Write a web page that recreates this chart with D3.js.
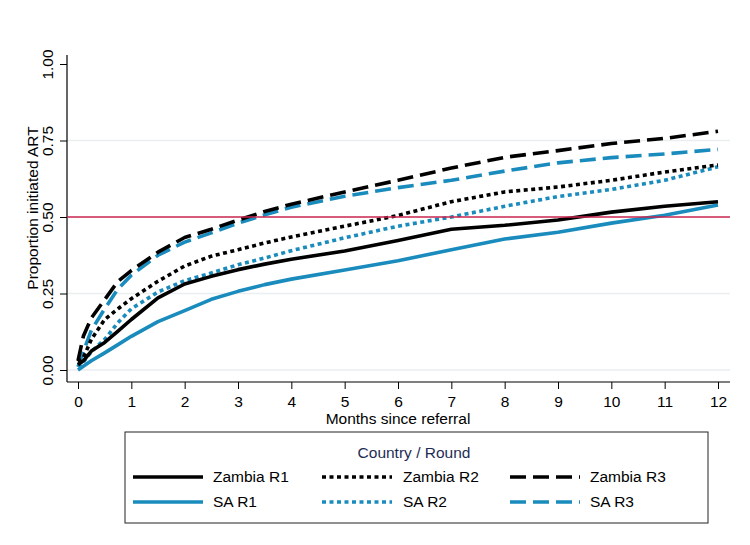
<!DOCTYPE html>
<html><head><meta charset="utf-8">
<script src="https://cdn.jsdelivr.net/npm/d3@7"></script>
<style>body{margin:0;background:#fff;}svg{display:block;font-family:"Liberation Sans",Arial,sans-serif;}</style>
</head><body><svg id="c" width="750" height="545"></svg>
<script>
const months = [0, 0.1, 0.25, 0.5, 0.75, 1, 1.5, 2, 2.5, 3, 3.5, 4, 5, 6, 7, 8, 9, 10, 11, 12];
const zambiaR1 = [0.017, 0.03, 0.062, 0.09, 0.127, 0.165, 0.236, 0.281, 0.306, 0.328, 0.346, 0.362, 0.389, 0.423, 0.46, 0.473, 0.49, 0.516, 0.535, 0.55];
const zambiaR2 = [0.027, 0.04, 0.1, 0.165, 0.2, 0.233, 0.29, 0.34, 0.372, 0.393, 0.415, 0.435, 0.47, 0.505, 0.55, 0.582, 0.598, 0.62, 0.647, 0.67];
const zambiaR3 = [0.03, 0.11, 0.17, 0.23, 0.29, 0.325, 0.385, 0.433, 0.46, 0.49, 0.518, 0.542, 0.582, 0.62, 0.66, 0.695, 0.717, 0.74, 0.757, 0.78];
const saR1 = [0, 0.012, 0.03, 0.056, 0.083, 0.11, 0.158, 0.194, 0.231, 0.257, 0.279, 0.297, 0.327, 0.357, 0.393, 0.428, 0.45, 0.48, 0.506, 0.539];
const saR2 = [0.01, 0.025, 0.06, 0.1, 0.155, 0.2, 0.255, 0.292, 0.317, 0.344, 0.366, 0.39, 0.432, 0.47, 0.5, 0.535, 0.567, 0.59, 0.62, 0.664];
const saR3 = [0.01, 0.06, 0.13, 0.2, 0.265, 0.31, 0.375, 0.418, 0.448, 0.48, 0.507, 0.532, 0.568, 0.596, 0.62, 0.65, 0.677, 0.694, 0.706, 0.721];
const xTicks = [0,1,2,3,4,5,6,7,8,9,10,11,12];
const yTicks = [0, 0.25, 0.5, 0.75, 1];
const gridTicks = [0, 0.25, 0.75];
const refValue = 0.5;
const seriesNames = ["Zambia R1","Zambia R2","Zambia R3","SA R1","SA R2","SA R3"];

const black = "#000", blue = "#1a8bbd";
const dash = {solid:null, dot:"4,3.5", dashed:"16,7"};
const series = [
  {name:seriesNames[0], vals:zambiaR1, color:black, d:dash.solid},
  {name:seriesNames[1], vals:zambiaR2, color:black, d:dash.dot},
  {name:seriesNames[2], vals:zambiaR3, color:black, d:dash.dashed},
  {name:seriesNames[3], vals:saR1, color:blue, d:dash.solid},
  {name:seriesNames[4], vals:saR2, color:blue, d:dash.dot},
  {name:seriesNames[5], vals:saR3, color:blue, d:dash.dashed}
];

const FS = 15.5;
const svg = d3.select("#c");
const x = d3.scaleLinear().domain([0,12]).range([78,718]);
const y = d3.scaleLinear().domain([0,1]).range([370,64]);
const axisX = 67, axisY = 382, plotRight = 730, plotTop = 55;

// gridlines
svg.append("g").selectAll("line").data(gridTicks).join("line")
  .attr("x1",axisX).attr("x2",plotRight).attr("y1",d=>y(d)).attr("y2",d=>y(d))
  .attr("stroke","#eaeef0").attr("stroke-width",1.5);

// y axis
const ya = svg.append("g").attr("transform",`translate(${axisX},0)`)
  .call(d3.axisLeft(y).tickValues(yTicks).tickFormat(d3.format(".2f")).tickSize(7).tickSizeOuter(0));
ya.select(".domain").remove();
svg.append("line").attr("x1",axisX).attr("x2",axisX).attr("y1",plotTop).attr("y2",axisY).attr("stroke","#000").attr("stroke-width",1.2);
ya.selectAll(".tick line").attr("stroke","#000");
ya.selectAll(".tick text").attr("font-size",FS).attr("fill","#000")
  .attr("text-anchor","middle").attr("x",0).attr("y",0).attr("dy",null)
  .attr("transform","translate(-14,0) rotate(-90)");

// x axis
const xa = svg.append("g").attr("transform",`translate(0,${axisY})`)
  .call(d3.axisBottom(x).tickValues(xTicks).tickFormat(d3.format("d")).tickSize(7).tickSizeOuter(0));
xa.select(".domain").remove();
svg.append("line").attr("x1",axisX).attr("x2",plotRight).attr("y1",axisY).attr("y2",axisY).attr("stroke","#000").attr("stroke-width",1.2);
xa.selectAll(".tick line").attr("stroke","#000");
xa.selectAll(".tick text").attr("font-size",FS).attr("fill","#000").attr("y",14);

// axis titles
svg.append("text").attr("x",398).attr("y",424).attr("text-anchor","middle").attr("font-size",FS).text("Months since referral");
svg.append("text").attr("transform","translate(38,208) rotate(-90)").attr("text-anchor","middle").attr("font-size",FS).text("Proportion initiated ART");

// lines
const line = d3.line().x((d,i)=>x(months[i])).y(d=>y(d));
const order = [3,4,5,0,1,2];
svg.append("g").selectAll("path").data(order.map(i=>series[i])).join("path")
  .attr("d",d=>line(d.vals)).attr("fill","none").attr("stroke",d=>d.color)
  .attr("stroke-width",3.6).attr("stroke-dasharray",d=>d.d).attr("stroke-linejoin","round");

// reference line
svg.append("line").attr("x1",axisX).attr("x2",plotRight).attr("y1",y(refValue)).attr("y2",y(refValue))
  .attr("stroke","#c8234e").attr("stroke-width",1.3);

// legend
const lg = svg.append("g");
lg.append("rect").attr("x",125).attr("y",432).attr("width",583).attr("height",91).attr("fill","#fff").attr("stroke","#222").attr("stroke-width",1);
lg.append("text").attr("x",414).attr("y",458).attr("text-anchor","middle").attr("font-size",FS).attr("fill","#1e2d55").text("Country / Round");
const cols = [{lx:133, tx:213},{lx:322, tx:403},{lx:510, tx:590}];
const rows = [482, 507];
series.forEach((s,i)=>{
  const c = cols[i%3], r = rows[Math.floor(i/3)];
  lg.append("line").attr("x1",c.lx).attr("x2",c.lx+70).attr("y1",r-5).attr("y2",r-5)
    .attr("stroke",s.color).attr("stroke-width",3.6).attr("stroke-dasharray",s.d);
  lg.append("text").attr("x",c.tx).attr("y",r).attr("font-size",FS).text(s.name);
});
</script></body></html>
